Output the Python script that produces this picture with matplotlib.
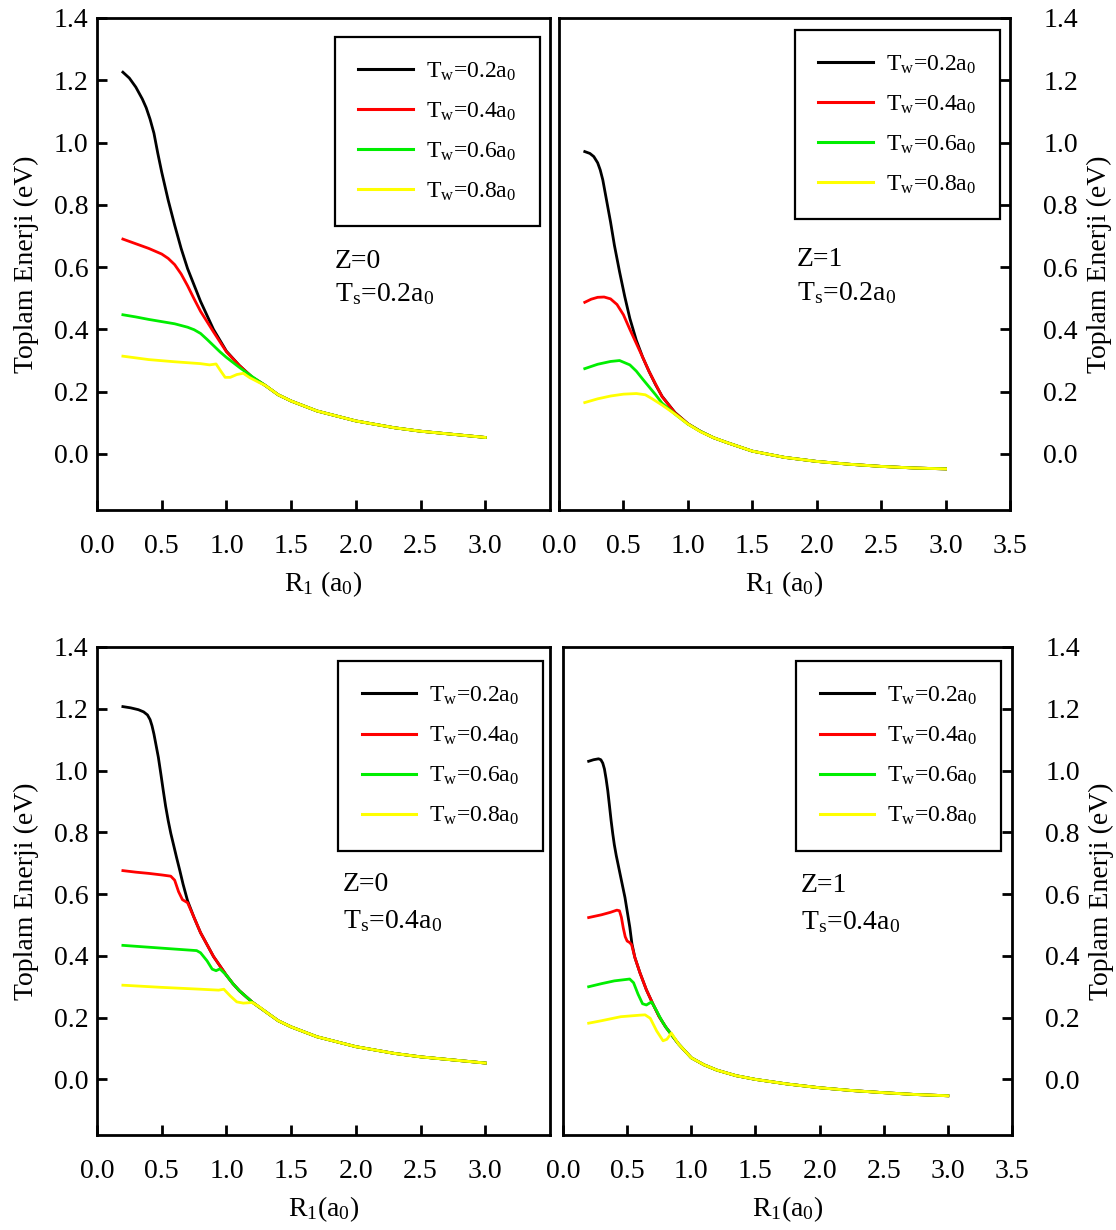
import matplotlib
matplotlib.use("Agg")
import matplotlib.pyplot as plt
import numpy as np

plt.rcParams['font.family'] = ['Liberation Serif', 'DejaVu Serif']
plt.rcParams['mathtext.fontset'] = 'custom'
plt.rcParams['mathtext.rm'] = 'Liberation Serif'
plt.rcParams['mathtext.it'] = 'Liberation Serif:italic'

# ---------------- data ----------------
labels = [r'T$_\mathrm{w}$=0.2a$_\mathrm{0}$', r'T$_\mathrm{w}$=0.4a$_\mathrm{0}$',
          r'T$_\mathrm{w}$=0.6a$_\mathrm{0}$', r'T$_\mathrm{w}$=0.8a$_\mathrm{0}$']
colors = ['#000000', '#ff0000', '#00ee00', '#ffff00']

# Panel A: Z=0, Ts=0.2
tailA_x = [1.3, 1.4, 1.5, 1.7, 2.0, 2.3, 2.5, 2.8, 3.0]
tailA_y = [0.220, 0.190, 0.170, 0.138, 0.106, 0.084, 0.073, 0.061, 0.053]
a_black_x = [0.2, 0.25, 0.3, 0.35, 0.38, 0.41, 0.44, 0.47, 0.5, 0.55, 0.6, 0.65, 0.7, 0.8, 0.9, 1.0, 1.1, 1.2]
a_black_y = [1.226, 1.207, 1.178, 1.14, 1.112, 1.075, 1.03, 0.965, 0.905, 0.815, 0.735, 0.66, 0.595, 0.49, 0.40, 0.33, 0.284, 0.246]
a_red_x = [0.2, 0.3, 0.4, 0.5, 0.55, 0.6, 0.65, 0.7, 0.75, 0.8, 0.9, 1.0, 1.1, 1.2]
a_red_y = [0.69, 0.675, 0.66, 0.642, 0.628, 0.608, 0.578, 0.54, 0.498, 0.458, 0.392, 0.328, 0.284, 0.246]
a_green_x = [0.2, 0.3, 0.4, 0.5, 0.6, 0.7, 0.75, 0.8, 0.85, 0.9, 0.95, 1.0, 1.1, 1.2]
a_green_y = [0.447, 0.44, 0.432, 0.425, 0.418, 0.407, 0.399, 0.387, 0.368, 0.348, 0.328, 0.31, 0.278, 0.248]
a_yellow_x = [0.2, 0.4, 0.6, 0.8, 0.87, 0.92, 0.95, 0.99, 1.03, 1.08, 1.13, 1.18, 1.25]
a_yellow_y = [0.314, 0.303, 0.296, 0.29, 0.286, 0.289, 0.27, 0.246, 0.246, 0.255, 0.259, 0.245, 0.23]

# Panel B: Z=1, Ts=0.2
tailB_x = [1.2, 1.3, 1.5, 1.75, 2.0, 2.25, 2.5, 2.75, 3.0]
tailB_y = [0.052, 0.037, 0.009, -0.011, -0.024, -0.033, -0.040, -0.045, -0.048]
b_black_x = [0.2, 0.24, 0.27, 0.3, 0.32, 0.34, 0.36, 0.4, 0.43, 0.47, 0.51, 0.55, 0.6, 0.65, 0.7, 0.75, 0.8, 0.9, 1.0, 1.1]
b_black_y = [0.971, 0.965, 0.955, 0.935, 0.912, 0.88, 0.835, 0.745, 0.67, 0.585, 0.506, 0.435, 0.365, 0.31, 0.264, 0.222, 0.185, 0.133, 0.097, 0.072]
b_red_x = [0.2, 0.25, 0.3, 0.35, 0.4, 0.45, 0.5, 0.55, 0.6, 0.65, 0.7, 0.8, 0.9, 1.0, 1.1]
b_red_y = [0.487, 0.497, 0.503, 0.504, 0.498, 0.48, 0.447, 0.40, 0.355, 0.31, 0.264, 0.184, 0.132, 0.097, 0.072]
b_green_x = [0.2, 0.3, 0.4, 0.47, 0.55, 0.6, 0.65, 0.7, 0.75, 0.8, 0.9, 1.0, 1.1]
b_green_y = [0.274, 0.288, 0.297, 0.30, 0.286, 0.266, 0.24, 0.215, 0.19, 0.163, 0.128, 0.096, 0.072]
b_yellow_x = [0.2, 0.3, 0.4, 0.5, 0.6, 0.67, 0.72, 0.8, 0.9, 1.0, 1.1]
b_yellow_y = [0.165, 0.177, 0.186, 0.192, 0.194, 0.19, 0.178, 0.157, 0.128, 0.096, 0.071]

# Panel C: Z=0, Ts=0.4
tailC_x = [0.75, 0.8, 0.9, 1.0, 1.05, 1.1, 1.2, 1.3, 1.4, 1.5, 1.7, 2.0, 2.3, 2.5, 2.8, 3.0]
tailC_y = [0.524, 0.475, 0.398, 0.337, 0.31, 0.287, 0.25, 0.22, 0.19, 0.17, 0.138, 0.106, 0.084, 0.073, 0.061, 0.053]
c_black_x = [0.2, 0.26, 0.32, 0.36, 0.39, 0.41, 0.425, 0.44, 0.455, 0.474, 0.493, 0.512, 0.53, 0.55, 0.57,
             0.59, 0.615, 0.64, 0.665, 0.7]
c_black_y = [1.207, 1.203, 1.197, 1.19, 1.18, 1.165, 1.145, 1.118, 1.085, 1.043, 0.99, 0.935, 0.885, 0.838, 0.797,
             0.762, 0.718, 0.676, 0.632, 0.578]
c_red_x = [0.2, 0.3, 0.4, 0.5, 0.57, 0.6, 0.63, 0.66, 0.7]
c_red_y = [0.676, 0.671, 0.667, 0.662, 0.658, 0.645, 0.608, 0.582, 0.572]
c_green_x = [0.2, 0.4, 0.6, 0.77, 0.8, 0.85, 0.89, 0.92, 0.95, 1.0]
c_green_y = [0.434, 0.428, 0.422, 0.417, 0.41, 0.384, 0.357, 0.352, 0.358, 0.337]
c_yellow_x = [0.2, 0.5, 0.8, 0.94, 0.98, 1.03, 1.08, 1.13, 1.2, 1.26, 1.3]
c_yellow_y = [0.305, 0.298, 0.292, 0.289, 0.292, 0.27, 0.251, 0.247, 0.249, 0.233, 0.22]

# Panel D: Z=1, Ts=0.4
tailD_x = [0.6, 0.65, 0.7, 0.75, 0.8, 0.9, 1.0, 1.1, 1.2, 1.35, 1.5, 1.75, 2.0, 2.25, 2.5, 2.75, 3.0]
tailD_y = [0.345, 0.29, 0.245, 0.203, 0.17, 0.115, 0.07, 0.047, 0.03, 0.012, 0.0, -0.015, -0.027, -0.036, -0.043, -0.049, -0.053]
d_black_x = [0.2, 0.238, 0.277, 0.295, 0.31, 0.323, 0.336, 0.349, 0.362, 0.375, 0.388, 0.4, 0.415, 0.43, 0.45,
             0.483, 0.521, 0.537, 0.56]
d_black_y = [1.03, 1.035, 1.038, 1.035, 1.024, 1.005, 0.973, 0.935, 0.887, 0.838, 0.795, 0.76, 0.725, 0.695, 0.655,
             0.589, 0.492, 0.44, 0.395]
d_red_x = [0.2, 0.3, 0.37, 0.42, 0.44, 0.455, 0.47, 0.485, 0.5, 0.52, 0.535, 0.56]
d_red_y = [0.524, 0.533, 0.541, 0.548, 0.546, 0.525, 0.49, 0.462, 0.448, 0.443, 0.436, 0.395]
d_green_x = [0.2, 0.3, 0.4, 0.52, 0.55, 0.585, 0.62, 0.65, 0.69, 0.73, 0.77, 0.8]
d_green_y = [0.30, 0.31, 0.319, 0.325, 0.313, 0.276, 0.245, 0.241, 0.251, 0.222, 0.19, 0.17]
d_yellow_x = [0.2, 0.3, 0.45, 0.6, 0.64, 0.68, 0.73, 0.78, 0.81, 0.845, 0.9, 1.0]
d_yellow_y = [0.182, 0.19, 0.203, 0.208, 0.209, 0.198, 0.157, 0.125, 0.13, 0.15, 0.115, 0.07]

panels = [
    dict(heads=[(a_black_x, a_black_y), (a_red_x, a_red_y), (a_green_x, a_green_y), (a_yellow_x, a_yellow_y)],
         tail=(tailA_x, tailA_y), z='Z=0', ts=r'T$_\mathrm{s}$=0.2a$_\mathrm{0}$',
         pos=[97, 18, 550, 510], side='left', xlabel=r'R$_\mathrm{1}$ (a$_\mathrm{0}$)',
         leg=(0.525, 0.962), txt=(0.525, 0.492, 0.424)),
    dict(heads=[(b_black_x, b_black_y), (b_red_x, b_red_y), (b_green_x, b_green_y), (b_yellow_x, b_yellow_y)],
         tail=(tailB_x, tailB_y), z='Z=1', ts=r'T$_\mathrm{s}$=0.2a$_\mathrm{0}$',
         pos=[559, 18, 1010, 510], side='right', xlabel=r'R$_\mathrm{1}$ (a$_\mathrm{0}$)',
         leg=(0.523, 0.976), txt=(0.528, 0.495, 0.426)),
    dict(heads=[(c_black_x, c_black_y), (c_red_x, c_red_y), (c_green_x, c_green_y), (c_yellow_x, c_yellow_y)],
         tail=(tailC_x, tailC_y), z='Z=0', ts=r'T$_\mathrm{s}$=0.4a$_\mathrm{0}$',
         pos=[97, 647, 550, 1135], side='left', xlabel=r'R$_\mathrm{1}$(a$_\mathrm{0}$)',
         leg=(0.532, 0.971), txt=(0.543, 0.499, 0.423)),
    dict(heads=[(d_black_x, d_black_y), (d_red_x, d_red_y), (d_green_x, d_green_y), (d_yellow_x, d_yellow_y)],
         tail=(tailD_x, tailD_y), z='Z=1', ts=r'T$_\mathrm{s}$=0.4a$_\mathrm{0}$',
         pos=[563, 647, 1012, 1135], side='right', xlabel=r'R$_\mathrm{1}$(a$_\mathrm{0}$)',
         leg=(0.519, 0.971), txt=(0.530, 0.497, 0.421)),
]

W, H = 1116, 1230
fig = plt.figure(figsize=(W / 100, H / 100), dpi=100)

for p in panels:
    x0, y0, x1, y1 = p['pos']
    ax = fig.add_axes([x0 / W, 1 - y1 / H, (x1 - x0) / W, (y1 - y0) / H])
    tx, ty = p['tail']
    for (hx, hy), c, lab in zip(p['heads'], colors, labels):
        xs = list(hx) + [t for t in tx if t > hx[-1]]
        ys = list(hy) + [v for t, v in zip(tx, ty) if t > hx[-1]]
        ax.plot(xs, ys, color=c, lw=2.0, label=lab, solid_joinstyle='round')
    ax.set_xlim(0, 3.5)
    ax.set_ylim(-0.18, 1.4)
    if p['side'] == 'left':
        ax.set_xticks(np.arange(0, 3.01, 0.5))
    else:
        ax.set_xticks(np.arange(0, 3.51, 0.5))
    ax.set_xticklabels(['%.1f' % v for v in ax.get_xticks()])
    ax.set_yticks(np.arange(0, 1.41, 0.2))
    ax.set_yticklabels(['%.1f' % v for v in np.arange(0, 1.41, 0.2)])
    for s in ax.spines.values():
        s.set_linewidth(2)
    ax.tick_params(axis='x', direction='in', length=7, width=2, labelsize=20, pad=17)
    if p['side'] == 'left':
        ax.tick_params(axis='y', direction='in', length=7, width=2, labelsize=20, pad=6)
        ax.set_ylabel('Toplam Enerji (eV)', fontsize=20, labelpad=11)
    else:
        ax.yaxis.tick_right()
        ax.yaxis.set_label_position('right')
        ax.tick_params(axis='y', direction='in', length=7, width=2, labelsize=20, pad=24)
        ax.set_ylabel('Toplam Enerji (eV)', fontsize=20, labelpad=6, rotation=90)
    ax.set_xlabel(p['xlabel'], fontsize=20, labelpad=8)
    leg = ax.legend(loc='upper left', bbox_to_anchor=p['leg'], fontsize=17, frameon=True,
                    fancybox=False, edgecolor='black', framealpha=1, handlelength=2.3,
                    handletextpad=0.55, labelspacing=0.75, borderpad=1.0, borderaxespad=0)
    leg.get_frame().set_linewidth(1.6)
    for l in leg.get_lines():
        l.set_linewidth(2.2)
    tx0, zy, tsy = p['txt']
    ax.text(tx0, zy, p['z'], transform=ax.transAxes, fontsize=20, va='baseline')
    ax.text(tx0, tsy, p['ts'], transform=ax.transAxes, fontsize=20, va='baseline')

fig.savefig('out.png', dpi=100)
